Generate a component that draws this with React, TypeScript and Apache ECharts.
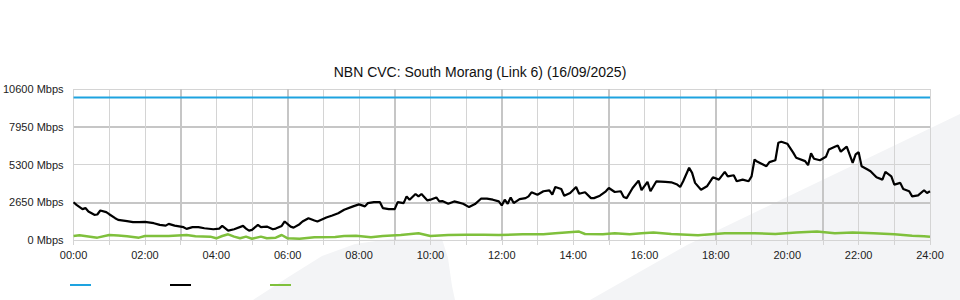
import React, { useEffect, useRef } from "react";
import * as echarts from "echarts";

const TITLE = "NBN CVC: South Morang (Link 6) (16/09/2025)";
const Y_TICKS = [0, 2650, 5300, 7950, 10600];
const SERIES_NAMES = ["Capacity", "Download", "Upload"];

const capTimes = [0, 1440];
const capMbps = [10000, 10000];

const dlTimes = [
  0, 5, 15, 20, 25, 35, 40, 45, 55,
  60, 70, 75, 90, 100, 110,
  120, 135, 145, 155, 160, 170,
  185, 190, 200, 210, 220, 235,
  245, 250, 260, 270, 285, 290, 295,
  300, 310, 315, 325, 335, 340, 350, 355,
  365, 370, 380, 385, 395, 405, 410,
  425, 435, 445, 455, 470,
  480, 490, 495, 505, 515, 520, 530,
  540, 545, 555, 560, 565, 575, 580, 585, 595,
  600, 610, 615, 620, 630, 640, 645, 655,
  665, 675, 685, 695, 705, 715,
  720, 725, 730, 735, 740, 750, 760, 765, 770,
  780, 790, 800, 805, 810, 820, 825, 835,
  845, 850, 860, 870, 875, 885, 895,
  900, 910, 920, 925, 930, 940, 950, 955,
  965, 970, 980, 995, 1005, 1015,
  1020, 1025, 1035, 1040, 1045, 1055, 1065, 1075,
  1085, 1095, 1100, 1110, 1115, 1125, 1135,
  1140, 1145, 1150, 1165, 1170, 1180, 1185, 1190,
  1200, 1210, 1215, 1230, 1235, 1240, 1245, 1255,
  1265, 1270, 1280, 1285, 1290, 1300, 1310, 1315,
  1320, 1325, 1335, 1340, 1350, 1360, 1365, 1375,
  1380, 1390, 1395, 1405, 1410, 1420, 1430, 1435, 1440,
];
const dlMbps = [
  2650, 2470, 2170, 2240, 2000, 1770, 1790, 2070, 1955,
  1810, 1530, 1410, 1320, 1250, 1250,
  1270, 1180, 1060, 1010, 1130, 1010,
  900, 780, 900, 900, 825, 755,
  800, 990, 660, 755, 990, 800, 660,
  710, 1060, 900, 940, 755, 800, 990, 1300,
  940, 870, 1110, 1300, 1530, 1370, 1300,
  1580, 1720, 1880, 2120, 2360,
  2500, 2360, 2590, 2660, 2660, 2240, 2170,
  2170, 2660, 2590, 3060, 2830, 3230, 3060, 3230, 2780,
  2830, 2990, 2710, 2730, 2540, 2710, 2660, 2540,
  2310, 2520, 2900, 2900, 2830, 2710,
  2430, 2830, 2540, 2990, 2590, 2870, 2940, 3060, 3350,
  3180, 3420, 3480, 3180, 3720, 3580, 3110, 3300,
  3720, 3250, 3350, 2940, 2940, 3110, 3420,
  3650, 3370, 3420, 3015, 2940, 3650, 4170, 3500,
  4080, 3420, 4120, 4080, 4050, 3890,
  3720, 4120, 5070, 4710, 4010, 3530, 3770, 4400,
  4240, 4780, 4470, 4545, 4120, 4240, 4120,
  4470, 5650, 5490, 5180, 5465, 5600, 6830, 6900,
  6760, 6130, 5770, 5535, 5250, 6080, 5700, 5600,
  5840, 6360, 6550, 6640, 6200, 6550, 5420, 6010,
  6170, 5180, 4950, 4830, 4400, 4240, 4780, 4470,
  3890, 4010, 3580, 3420, 3060, 3130, 3490, 3300, 3420,
];

const ulTimes = [
  0, 10, 40, 60, 75, 90, 110, 120, 160, 190, 205, 230,
  240, 250, 260, 270, 280, 290, 300, 315, 325, 340, 350, 360,
  380, 405, 440, 455, 475, 500, 520, 550, 580, 600, 630, 660,
  690, 715, 755, 790, 810, 850, 860, 890, 910, 935, 955, 975,
  1005, 1050, 1095, 1145, 1180, 1215, 1250, 1280, 1310, 1345, 1380, 1410,
  1430, 1440,
];
const ulMbps = [
  280, 330, 165, 350, 310, 260, 165, 280, 280, 350, 260, 235,
  118, 280, 400, 235, 118, 235, 90, 235, 118, 165, 350, 118,
  95, 190, 212, 280, 305, 188, 283, 353, 470, 283, 353, 376,
  376, 353, 400, 400, 470, 590, 423, 400, 470, 400, 470, 518,
  424, 330, 470, 470, 424, 518, 590, 470, 518, 470, 400, 306,
  260, 236,
];

const zip = (t: number[], v: number[]) => t.map((x, i) => [x, v[i]]);

const FONT = "'Liberation Sans', Arial, sans-serif";
const GRID_LIGHT = "#d4d4d4";
const GRID_DARK = "#c6c6c6";
const NONE = "rgba(0,0,0,0)";

export default function App() {
  const ref = useRef<HTMLDivElement>(null);
  useEffect(() => {
    if (!ref.current) return;
    const chart = echarts.init(ref.current, null, { renderer: "svg" });
    const pad = (n: number) => (n < 10 ? "0" + n : "" + n);
    const yMin = Y_TICKS[0];
    const yMax = Y_TICKS[Y_TICKS.length - 1];
    const yInt = Y_TICKS[1] - Y_TICKS[0];
    chart.setOption({
      animation: false,
      backgroundColor: "#ffffff",
      textStyle: { fontFamily: FONT },
      title: {
        text: TITLE,
        left: "center",
        top: 60,
        textStyle: { fontSize: 14, fontWeight: "normal", color: "#111", fontFamily: FONT },
      },
      graphic: [
        {
          type: "polygon",
          z: -100,
          silent: true,
          shape: {
            points: [
              [253, 300], [290, 276], [322, 256], [355, 244], [390, 239],
              [442, 239], [448, 258], [452, 286], [455, 300],
            ],
          },
          style: { fill: "#f3f4f6" },
        },
        {
          type: "polygon",
          z: -100,
          silent: true,
          shape: { points: [[590, 300], [687, 245], [960, 114], [960, 300]] },
          style: { fill: "#f3f4f6" },
        },
      ],
      legend: {
        left: 70,
        top: 284,
        padding: 0,
        itemWidth: 21,
        itemHeight: 2,
        itemGap: 79,
        icon: "rect",
        formatter: () => "",
        data: SERIES_NAMES,
        selectedMode: false,
      },
      grid: { left: 70, right: 30, top: 89, bottom: 60 },
      xAxis: [
        {
          type: "value",
          min: 0,
          max: 1440,
          interval: 60,
          axisLine: { show: false },
          axisTick: { show: true, length: 5, lineStyle: { color: GRID_LIGHT } },
          axisLabel: {
            margin: 9,
            fontSize: 11,
            color: "#222",
            fontFamily: FONT,
            formatter: (v: number) => {
              const h = Math.round(v / 60);
              return h % 2 === 0 ? pad(h) + ":00" : "";
            },
          },
          splitLine: { show: true, lineStyle: { color: GRID_LIGHT, width: 1 } },
        },
        {
          type: "value",
          min: 0,
          max: 1440,
          interval: 180,
          position: "bottom",
          axisLine: { show: false },
          axisTick: { show: false },
          axisLabel: { show: false },
          splitLine: { show: true, lineStyle: { color: [NONE, GRID_DARK, GRID_DARK, GRID_DARK, GRID_DARK, GRID_DARK, GRID_DARK, GRID_DARK, NONE], width: 2 } },
        },
      ],
      yAxis: [
        {
          type: "value",
          min: yMin,
          max: yMax,
          interval: yInt,
          axisLine: { show: false },
          axisTick: { show: false },
          axisLabel: {
            margin: 10,
            fontSize: 11,
            color: "#222",
            fontFamily: FONT,
            formatter: (v: number) => v + " Mbps",
          },
          splitLine: { show: true, lineStyle: { color: GRID_LIGHT, width: 1 } },
        },
        {
          type: "value",
          min: yMin,
          max: yMax,
          interval: yInt,
          position: "left",
          axisLine: { show: false },
          axisTick: { show: false },
          axisLabel: { show: false },
          splitLine: { show: true, lineStyle: { color: [NONE, GRID_DARK], width: 2 } },
        },
      ],
      series: [
        {
          name: SERIES_NAMES[0],
          type: "line",
          data: zip(capTimes, capMbps),
          showSymbol: false,
          lineStyle: { color: "#1ea3e0", width: 2 },
          itemStyle: { color: "#1ea3e0" },
        },
        {
          name: SERIES_NAMES[1],
          type: "line",
          data: zip(dlTimes, dlMbps),
          showSymbol: false,
          lineStyle: { color: "#000", width: 2.2 },
          itemStyle: { color: "#000" },
          z: 4,
        },
        {
          name: SERIES_NAMES[2],
          type: "line",
          data: zip(ulTimes, ulMbps),
          showSymbol: false,
          lineStyle: { color: "#7fc03c", width: 2.5 },
          itemStyle: { color: "#7fc03c" },
          z: 3,
        },
      ],
    });
    return () => chart.dispose();
  }, []);
  return (
    <div
      ref={ref}
      style={{ position: "fixed", left: 0, top: 0, width: 960, height: 300 }}
    />
  );
}
